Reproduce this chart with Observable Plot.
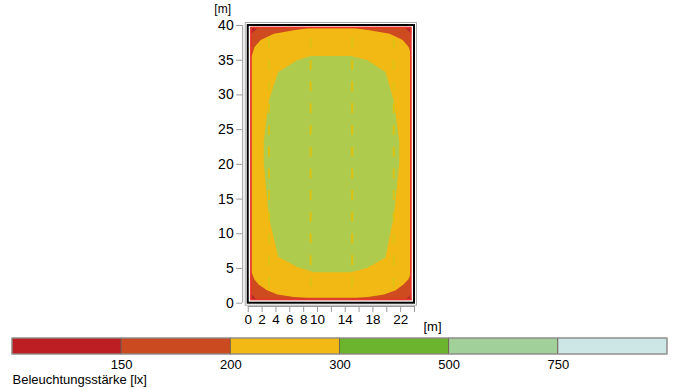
<!DOCTYPE html>
<html><head><meta charset="utf-8">
<script src="https://cdn.jsdelivr.net/npm/d3@7"></script>
<script src="https://cdn.jsdelivr.net/npm/@observablehq/plot@0.6"></script>
<style>
body{margin:0;background:#fff;font-family:"Liberation Sans",Arial,sans-serif}
#chart svg,#legend svg{display:block;background:#fff}
</style></head><body><div id="chart"></div><div id="legend"></div>
<script>
// Room and lit area bounds [x1, x2, y1, y2] in metres
const roomBounds = [0, 24, 0, 40];
const litArea = [0.45, 23.55, 0.45, 39.65];
// Iso-illuminance contours (metres)
const yellowContour = [
  [0.45,35.4],[0.9,36.9],[1.8,37.9],[3.7,38.8],[6.6,39.3],[8.6,39.6],[15.4,39.6],[17.5,39.3],[20.4,38.8],[22.3,37.9],[23.15,36.9],[23.55,35.6],
  [23.55,4.5],[23.1,3.4],[22.4,2.7],[21.3,1.85],[19.6,1.25],[17.3,0.9],[15.5,0.8],[8.5,0.8],[6.6,0.9],[4.2,1.25],[2.7,1.85],[1.5,2.7],[0.9,3.4],[0.45,4.5]
];
const greenContour = [
  [2.25,23.4],[2.97,29.2],[4.33,33.3],[7.07,35.0],[9.0,35.6],[14.8,35.6],[17.2,35.0],[19.8,33.3],[21.0,29.2],[21.8,23.4],
  [21.8,20.1],[21.0,12.4],[19.8,6.6],[17.2,5.1],[14.8,4.47],[9.47,4.47],[7.07,5.2],[4.33,6.7],[2.97,12.4],[2.25,20.1]
];
const cornerTriangles = [
  [[0.45,39.65],[1.3,39.65],[0.45,38.8]],
  [[23.55,39.65],[22.7,39.65],[23.55,38.8]],
  [[0.45,0.45],[1.3,0.45],[0.45,1.3]],
  [[23.55,0.45],[22.7,0.45],[23.55,1.3]]
];
const luminaireRowsX = [3, 9, 15, 21];
const luminaireRowSpan = [38.1, 2.3];
const xTicks = [0,2,4,6,8,10,12,14,16,18,20,22,24];
const xTickLabels = [0,2,4,6,8,10,14,18,22];
const yTicks = [0,5,10,15,20,25,30,35,40];
// Legend
const legendColors = ["#bd1e24","#cc4a1f","#f2b814","#6cb42e","#a1d09b","#cde6e6"];
const legendLabels = ["150","200","300","500","750"];
const legendTitle = "Beleuchtungsstärke [lx]";

const font = '"Liberation Sans", Arial, sans-serif';
const tri = cornerTriangles.flatMap((t, k) => t.map(p => ({x: p[0], y: p[1], k})));

const chart = Plot.plot({
  width: 678, height: 335,
  marginLeft: 242.2, marginRight: 264, marginTop: 25, marginBottom: 29,
  style: {fontFamily: font, fontSize: "13.5px", background: "#fff", color: "#000"},
  x: {domain: [-0.8, 24]},
  y: {domain: [-0.475, 40]},
  marks: [
    Plot.rect([litArea], {x1: d => d[0], x2: d => d[1], y1: d => d[2], y2: d => d[3], fill: "#cd4b1f"}),
    Plot.line(yellowContour, {x: d => d[0], y: d => d[1], fill: "#f2b914", stroke: "none"}),
    Plot.line(greenContour, {x: d => d[0], y: d => d[1], fill: "#afcb4d", stroke: "none"}),
    Plot.line(tri, {x: "x", y: "y", z: "k", fill: "#b8262a", stroke: "none"}),
    Plot.ruleX(luminaireRowsX, {y1: luminaireRowSpan[0], y2: luminaireRowSpan[1], stroke: "#dcc212", strokeWidth: 2, strokeDasharray: "10 11.7"}),
    Plot.rect([litArea], {x1: d => d[0], x2: d => d[1], y1: d => d[2], y2: d => d[3], fill: "none", stroke: "#e8352c", strokeWidth: 1.6}),
    Plot.rect([roomBounds], {x1: d => d[0], x2: d => d[1], y1: d => d[2], y2: d => d[3], fill: "none", stroke: "#000", strokeWidth: 2}),
    Plot.rect([roomBounds], {x1: d => d[0], x2: d => d[1], y1: d => d[2], y2: d => d[3], fill: "none", stroke: "#aaa", strokeWidth: 1, inset: -2.5}),
    Plot.ruleX([-0.8], {y1: 0, y2: 40, stroke: "#999"}),
    Plot.ruleY([-0.475], {x1: 0, x2: 24, stroke: "#999"}),
    Plot.axisY(yTicks, {tickSize: 6, tickPadding: 3, stroke: "#999", label: null, fontSize: 14}),
    Plot.axisX(xTicks, {tickSize: 6, tickPadding: 2, stroke: "#999", label: null, fontSize: 13.5,
      tickFormat: d => xTickLabels.includes(d) ? String(d) : ""}),
    Plot.text(["[m]"], {frameAnchor: "top-left", lineAnchor: "middle", dx: -20, dy: -16, textAnchor: "middle", fontSize: 12}),
    Plot.text(["[m]"], {frameAnchor: "bottom-right", lineAnchor: "middle", dx: 18, dy: 20, textAnchor: "middle", fontSize: 13})
  ]
});
document.getElementById("chart").append(chart);

const legend = Plot.plot({
  width: 678, height: 55,
  marginLeft: 12, marginRight: 11, marginTop: 3, marginBottom: 36,
  style: {fontFamily: font, fontSize: "13px", background: "#fff", color: "#000"},
  x: {domain: [0, legendColors.length], axis: null},
  y: {domain: [0, 1], axis: null},
  color: {type: "identity"},
  marks: [
    Plot.rect(legendColors, {x1: (d, i) => i, x2: (d, i) => i + 1, y1: 0, y2: 1, fill: d => d, stroke: "#6a5a50", strokeWidth: 0.8}),
    Plot.rect([0], {x1: 0, x2: legendColors.length, y1: 0, y2: 1, fill: "none", stroke: "#999", strokeWidth: 1}),
    Plot.text(legendLabels, {x: (d, i) => i + 1, frameAnchor: "bottom", lineAnchor: "middle", dy: 10, text: d => d}),
    Plot.text([legendTitle], {frameAnchor: "bottom-left", lineAnchor: "middle", dy: 25.5, textAnchor: "start", text: d => d})
  ]
});
document.getElementById("legend").append(legend);
</script></body></html>
